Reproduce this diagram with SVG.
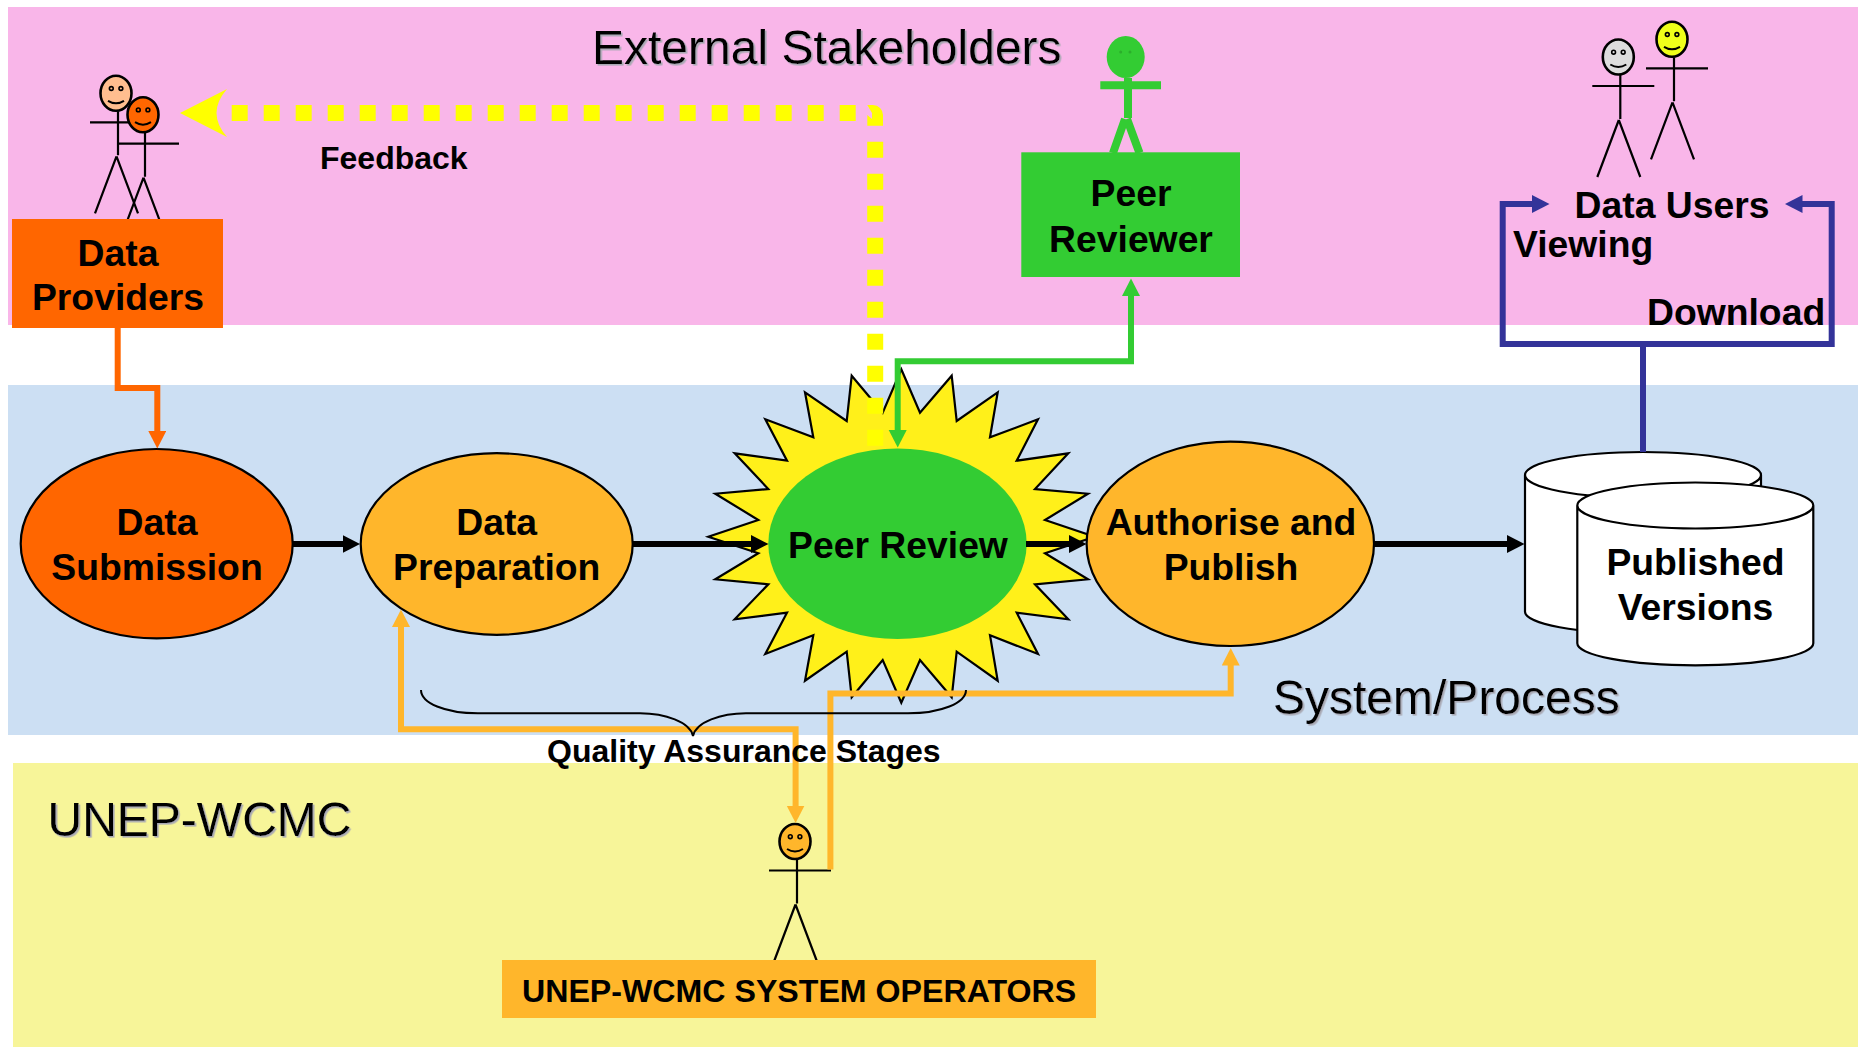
<svg xmlns="http://www.w3.org/2000/svg" xmlns:xlink="http://www.w3.org/1999/xlink" width="1858" height="1047" viewBox="0 0 1858 1047">
<style>
text{font-family:"Liberation Sans",Arial,sans-serif;fill:#000}
.b{font-size:37.3px;font-weight:700;text-anchor:middle}
.s{font-size:32px;font-weight:700}
.t{font-size:48px;filter:url(#sh)}
.n{stroke:#000;stroke-width:2.2}
.fig{fill:none;stroke:#000;stroke-width:2.2}
.c{fill:none;stroke-width:6;stroke-linejoin:miter}
.ln{fill:none;stroke:#000;stroke-width:2}
</style>
<defs>
<filter id="sh" x="-5%" y="-10%" width="110%" height="125%"><feDropShadow dx="1.6" dy="1.6" stdDeviation="0.5" flood-color="#a9a9b4"/></filter>
<marker id="mO" markerUnits="userSpaceOnUse" markerWidth="20" markerHeight="20" refX="1" refY="9" orient="auto-start-reverse"><path d="M0 0L17.5 9L0 18Z" fill="#FF6600"/></marker>
<marker id="mA" markerUnits="userSpaceOnUse" markerWidth="20" markerHeight="20" refX="1" refY="9" orient="auto-start-reverse"><path d="M0 0L17.5 9L0 18Z" fill="#FFB62B"/></marker>
<marker id="mG" markerUnits="userSpaceOnUse" markerWidth="20" markerHeight="20" refX="1" refY="9" orient="auto-start-reverse"><path d="M0 0L17.5 9L0 18Z" fill="#33CC33"/></marker>
<marker id="mB" markerUnits="userSpaceOnUse" markerWidth="20" markerHeight="20" refX="1" refY="9" orient="auto-start-reverse"><path d="M0 0L17.5 9L0 18Z" fill="#333399"/></marker>
<marker id="mK" markerUnits="userSpaceOnUse" markerWidth="20" markerHeight="20" refX="1" refY="9" orient="auto-start-reverse"><path d="M0 0L17.5 9L0 18Z" fill="#000"/></marker>
<g id="stick">
<path class="fig" d="M-26 29H36M2 18V62M0.5 63L-21 120M0.5 63L22 120"/>
<ellipse cx="0" cy="0" rx="15.5" ry="17.5" stroke="#000" stroke-width="2.6"/>
<circle cx="-4.7" cy="-4.8" r="1.9" stroke="#000" stroke-width="1.6"/>
<circle cx="4.9" cy="-4.8" r="1.9" stroke="#000" stroke-width="1.6"/>
<path d="M-8 7.5Q0 12.5 8 7.5" fill="none" stroke="#000" stroke-width="2"/>
</g>
</defs>

<g id="bands">
<rect x="8" y="7" width="1850" height="318" fill="#F9B6E9"/>
<rect x="8" y="385" width="1850" height="350" fill="#CCDFF3"/>
<rect x="13" y="763" width="1845" height="284" fill="#F7F599"/>
<text class="t" x="592" y="64">External Stakeholders</text>
<text class="t" x="1273" y="714">System/Process</text>
<text class="t" x="47.5" y="835.7">UNEP-WCMC</text>
</g>

<g id="data-providers">
<use xlink:href="#stick" href="#stick" x="116" y="93.3" fill="#FFBE8F"/>
<use xlink:href="#stick" href="#stick" x="143" y="114.7" fill="#FF6600"/>
<rect x="12" y="219" width="211" height="109" fill="#FF6600"/>
<text class="b" x="118" y="265.5">Data</text>
<text class="b" x="118" y="309.8">Providers</text>
</g>

<g id="peer-reviewer">
<g fill="#33CC33" stroke="#33CC33">
<ellipse cx="1125.7" cy="57" rx="19" ry="21" stroke="none"/>
<path d="M1100.3 85.3H1161M1128 78V118M1125 119L1113 153M1127 119L1139.5 153" fill="none" stroke-width="8"/>
</g>
<circle cx="1120.7" cy="52" r="1.5" fill="#2BAF2B"/><circle cx="1130" cy="52" r="1.5" fill="#2BAF2B"/>
<rect x="1021.3" y="152.3" width="218.7" height="124.7" fill="#33CC33"/>
<text class="b" x="1131" y="206">Peer</text>
<text class="b" x="1131" y="251.7">Reviewer</text>
</g>

<g id="data-users">
<use xlink:href="#stick" href="#stick" x="1618.3" y="57" fill="#DDDDDD"/>
<use xlink:href="#stick" href="#stick" x="1672" y="39.3" fill="#EFFF1A"/>
<text class="b" x="1672" y="218.3">Data Users</text>
</g>
<g id="labels-top">
<text class="s" x="320" y="169.3">Feedback</text>
<text class="b" x="1513" y="257" style="text-anchor:start">Viewing</text>
<text class="b" x="1647" y="325.3" style="text-anchor:start">Download</text>
</g>

<g id="data-submission">
<ellipse class="n" cx="156.7" cy="543.7" rx="136" ry="94.7" fill="#FF6600"/>
<text class="b" x="157" y="535">Data</text>
<text class="b" x="157" y="580.3">Submission</text>
</g>
<g id="data-preparation">
<ellipse class="n" cx="496.7" cy="544" rx="136" ry="90.8" fill="#FFB62B"/>
<text class="b" x="496.7" y="535.3">Data</text>
<text class="b" x="496.7" y="580.3">Preparation</text>
</g>
<g id="peer-review">
<polygon fill="#FFF01A" stroke="#000" stroke-width="2.2" points="901.3,369.3 920,412.7 951.7,375.7 956.7,421 997.7,392.3 990,437.3 1038,419.3 1016.7,460.7 1068.3,453.3 1035,489 1088,493.7 1045,520 1094.7,536.7 1045,553.3 1088,579.3 1035,584.3 1068.3,619.3 1016.7,612.7 1038,654 990,635.3 997.7,680.7 956.7,651.7 951.7,697.3 920,660 901.3,702.7 882.7,660 851.7,697.3 846.7,651.7 805,680.7 813.3,635.3 765.3,654 787,612.7 734.7,619.3 768.3,584.3 715.3,579.3 758.3,553.3 708.3,536.7 758.3,520 715.3,493.7 768.3,489 734.7,453.3 787,460.7 765.3,419.3 813.3,437.3 805,392.3 846.7,421 851.7,375.7 882.7,412.7"/>
<ellipse cx="897.5" cy="543.7" rx="129.2" ry="95.3" fill="#33CC33"/>
<text class="b" x="898" y="558.3">Peer Review</text>
</g>
<g id="authorise-publish">
<ellipse class="n" cx="1230.3" cy="543.8" rx="143.7" ry="102.2" fill="#FFB62B"/>
<text class="b" x="1231" y="535.3">Authorise and</text>
<text class="b" x="1231" y="580.3">Publish</text>
</g>
<g id="published-versions">
<path class="n" fill="#fff" d="M1525 475V611.7A118 22 0 0 0 1761 611.7V475A118 23 0 0 0 1525 475A118 23 0 0 0 1761 475"/>
<path class="n" fill="#fff" d="M1577.3 505.5V643.3A118 22 0 0 0 1813.3 643.3V505.5A118 23 0 0 0 1577.3 505.5A118 23 0 0 0 1813.3 505.5"/>
<text class="b" x="1695.5" y="575">Published</text>
<text class="b" x="1695.5" y="620">Versions</text>
</g>
<g id="operators">
<use xlink:href="#stick" href="#stick" x="795" y="841.5" fill="#FFB62B"/>
<rect x="502" y="960" width="594" height="58" fill="#FFB62B"/>
<text class="s" x="522" y="1002" style="font-size:32.15px">UNEP-WCMC SYSTEM OPERATORS</text>
</g>

<g id="connectors">
<path class="c" stroke="#FF6600" marker-end="url(#mO)" d="M117.7 328V388H157.3V432"/>
<path class="c" stroke="#000" marker-end="url(#mK)" d="M293 544H343.5"/>
<path class="c" stroke="#000" marker-end="url(#mK)" d="M633 544H752"/>
<path class="c" stroke="#000" marker-end="url(#mK)" d="M1026 544H1070"/>
<path class="c" stroke="#000" marker-end="url(#mK)" d="M1374 544H1508"/>
<path class="c" stroke="#FFB62B" marker-start="url(#mA)" marker-end="url(#mA)" d="M401 626V729.3H795.6V806.5"/>
<path class="c" stroke="#FFB62B" marker-end="url(#mA)" d="M830.4 869.5V693.5H1230.7V664.5"/>
<path class="c" stroke="#33CC33" marker-start="url(#mG)" marker-end="url(#mG)" d="M1131 295V361.3H897.7V431"/>
<path class="c" stroke="#333399" marker-start="url(#mB)" marker-end="url(#mB)" d="M1533 204H1502.7V344H1831.7V204H1801.5"/>
<path class="c" stroke="#333399" d="M1643 344V452"/>
<g id="feedback" fill="#FFFF00">
<path d="M180 113L227 89Q206 113 227 137Z"/>
<path d="M231.7 113H856" fill="none" stroke="#FFFF00" stroke-width="16" stroke-dasharray="16 16"/>
<path d="M875.2 141.7V446" fill="none" stroke="#FFFF00" stroke-width="16" stroke-dasharray="16 16"/>
<path d="M867.3 105H873A10 10 0 0 1 883 115V125.7H867.3V115L872 119V113Z"/>
</g>
</g>
<path id="brace" class="ln" d="M421 690C421 703 445 713.3 478 713.3H640C665 713.3 690 722 693 736C696 722 721 713.3 746 713.3H908C941 713.3 966 703 966 690"/>
<text class="s" x="547" y="761.7">Quality Assurance Stages</text>
</svg>
